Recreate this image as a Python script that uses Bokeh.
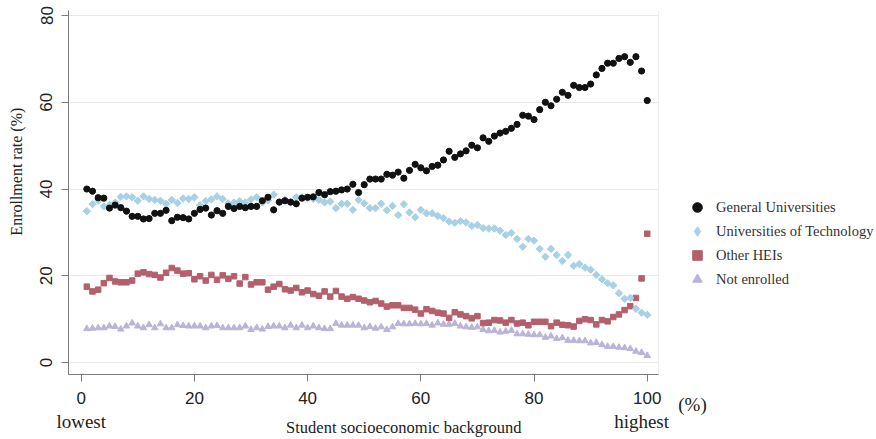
from bokeh.plotting import figure
from bokeh.models import (Range1d, Legend, LegendItem, FixedTicker, LinearAxis,
                          BoxAnnotation, Span)
from bokeh.embed import file_html
from bokeh.resources import INLINE

percentile = list(range(1, 101))

general = [40.0, 39.5, 38.0, 37.9, 35.6, 36.3, 35.7, 34.9, 33.7, 33.7,
           33.1, 33.2, 34.4, 34.4, 35.1, 32.7, 33.5, 33.4, 33.1, 34.4,
           35.3, 35.6, 34.0, 35.0, 34.4, 36.0, 35.5, 36.0, 35.7, 36.0,
           36.0, 37.3, 38.1, 35.2, 37.0, 37.3, 37.0, 36.6, 37.9, 38.1,
           38.2, 39.2, 38.7, 39.4, 39.5, 39.8, 40.0, 41.1, 39.2, 41.0,
           42.3, 42.3, 42.3, 43.4, 43.2, 43.9, 42.5, 44.3, 45.7, 44.9,
           44.2, 45.2, 45.5, 46.7, 48.7, 47.3, 48.1, 48.8, 50.1, 49.5,
           51.8, 51.0, 52.2, 52.9, 53.3, 54.0, 54.9, 57.0, 56.8, 56.0,
           58.3, 60.0, 59.2, 60.7, 62.3, 61.6, 63.9, 63.4, 63.4, 64.2,
           66.3, 67.8, 69.0, 69.0, 70.1, 70.5, 69.2, 70.5, 67.2, 60.4]

technology = [34.9, 36.5, 37.3, 36.0, 36.3, 36.9, 38.2, 38.3, 38.1, 37.3,
              38.3, 37.7, 37.5, 37.3, 36.6, 37.5, 36.8, 37.8, 37.7, 38.1,
              36.3, 37.2, 37.6, 38.3, 37.7, 36.7, 36.9, 37.2, 36.9, 37.6,
              38.1, 36.9, 37.4, 38.7, 36.9, 37.5, 36.9, 38.1, 38.1, 37.9,
              37.7, 37.5, 36.9, 37.1, 35.6, 36.6, 36.6, 35.2, 37.5, 36.7,
              35.6, 35.6, 36.6, 35.1, 36.1, 34.0, 36.5, 34.6, 33.5, 35.2,
              34.4, 34.4, 33.8, 33.3, 32.5, 32.2, 32.6, 32.3, 31.5, 31.7,
              31.0, 30.9, 30.9, 30.4, 29.4, 29.9, 28.5, 26.7, 28.5, 28.1,
              26.2, 24.4, 26.2, 24.8, 23.4, 24.8, 22.3, 22.7, 21.9, 21.4,
              20.2, 19.2, 18.3, 17.8, 16.0, 14.7, 14.9, 12.4, 11.5, 11.0]

other_hei = [17.5, 16.4, 16.8, 18.3, 19.5, 18.7, 18.5, 18.5, 18.9, 20.5,
             20.8, 20.4, 20.2, 19.6, 20.7, 21.8, 21.2, 20.5, 20.6, 19.2,
             19.9, 18.9, 20.2, 19.1, 20.1, 19.3, 19.9, 18.2, 19.7, 18.0,
             18.5, 18.5, 16.8, 17.5, 18.1, 16.9, 16.6, 17.2, 16.2, 16.6,
             15.8, 15.4, 16.4, 15.2, 16.5, 15.2, 14.7, 15.1, 14.7, 14.3,
             13.9, 14.2, 13.6, 12.9, 13.2, 13.2, 12.6, 12.6, 12.2, 11.3,
             12.3, 11.9, 11.5, 11.3, 10.3, 11.6, 11.1, 10.7, 10.2, 10.7,
             9.1, 9.2, 9.8, 9.7, 9.2, 9.8, 9.0, 9.2, 8.6, 9.4,
             9.4, 9.4, 8.4, 9.2, 8.7, 8.6, 8.3, 9.6, 10.0, 9.8,
             8.8, 9.8, 9.5, 10.5, 11.1, 12.1, 13.0, 14.9, 19.4, 29.7]

not_enrolled = [7.8, 7.9, 8.0, 8.0, 8.4, 8.3, 7.7, 8.4, 9.1, 8.4,
                8.0, 8.7, 8.0, 8.9, 8.0, 8.0, 8.7, 8.5, 8.4, 8.4,
                8.4, 8.0, 8.4, 8.5, 8.0, 8.0, 8.0, 8.0, 8.4, 7.6,
                8.0, 7.7, 8.3, 8.4, 8.4, 8.0, 8.6, 8.0, 8.6, 8.0,
                8.4, 8.0, 7.8, 7.8, 9.0, 8.6, 8.6, 8.6, 8.6, 8.0,
                8.3, 7.9, 8.2, 7.6, 8.2, 9.0, 8.9, 8.9, 9.0, 8.9,
                9.0, 8.6, 9.1, 8.8, 8.8, 9.0, 8.4, 8.2, 8.1, 8.2,
                7.6, 7.3, 7.4, 7.0, 7.2, 7.4, 6.6, 6.6, 6.5, 6.4,
                6.4, 5.8, 6.1, 5.5, 5.7, 5.1, 5.1, 5.0, 5.0, 4.5,
                4.6, 4.1, 3.7, 3.7, 3.5, 3.4, 3.2, 2.6, 2.3, 1.6]

x_ticks = [0, 20, 40, 60, 80, 100]
y_ticks = [0, 20, 40, 60, 80]
series_labels = ["General Universities", "Universities of Technology",
                 "Other HEIs", "Not enrolled"]
end_labels = {0: "lowest", 99: "highest"}
x_title = {57: "Student socioeconomic background"}
unit_label = {108: "(%)"}
y_title = {44: "Enrollment rate (%)"}

X_START, X_AXIS_END, X_END = -2.24, 102.0, 140.5
SERIF = "Liberation Serif"
SANS = "Liberation Sans"
INK = "#222222"
AXIS_GREY = "#7a7a7a"
BLUE = "#a8d1e5"

p = figure(width=876, height=439, output_backend="svg", toolbar_location=None,
           x_range=Range1d(X_START, X_END), y_range=Range1d(-2.75, 81.15),
           min_border_left=68, min_border_right=0, min_border_top=10,
           min_border_bottom=63)
p.background_fill_color = "white"
p.border_fill_color = "white"
p.outline_line_color = None

p.xgrid.visible = False
p.ygrid.ticker = FixedTicker(ticks=y_ticks)
p.ygrid.grid_line_color = "#e9e9e9"

# blank the area right of the plot region (legend area)
p.add_layout(BoxAnnotation(left=X_AXIS_END, fill_color="white", fill_alpha=1.0,
                           line_color=None, level="underlay"))
p.add_layout(Span(location=X_AXIS_END, dimension="height",
                  line_color="#ececec", line_width=1, level="underlay"))

r4 = p.scatter(percentile, not_enrolled, marker="triangle", size=6.5,
               fill_color="#b9b4da", line_color="#b9b4da")
r3 = p.scatter(percentile, other_hei, marker="square", size=5.5,
               fill_color="#b3606c", line_color="#b3606c")
r2 = p.scatter(percentile, technology, marker="square", angle=0.785398, size=5.2,
               fill_color=BLUE, line_color=BLUE)
r1 = p.scatter(percentile, general, marker="circle", size=6.2,
               fill_color="#111111", line_color="#111111")
# legend swatch for the diamond series (a single undrawable NaN point)
r2_key = p.scatter(x=[float("nan")], y=[float("nan")], marker="diamond",
                   size=8, fill_color=BLUE, line_color=BLUE)

xa = p.xaxis[0]
ya = p.yaxis[0]
xa.ticker = FixedTicker(ticks=x_ticks)
ya.ticker = FixedTicker(ticks=y_ticks)
xa.bounds = (X_START, X_AXIS_END)
for ax in (xa, ya):
    ax.axis_line_color = AXIS_GREY
    ax.major_tick_line_color = AXIS_GREY
    ax.minor_tick_line_color = None
    ax.major_tick_out = 7
    ax.major_tick_in = 0
    ax.major_label_text_font = SANS
    ax.major_label_text_font_size = "17px"
    ax.major_label_text_color = INK
xa.major_label_standoff = 10
ya.major_label_standoff = 9
ya.major_label_orientation = "vertical"


def label_axis(labels, font_size, standoff, orientation="horizontal"):
    ticks = list(labels.keys())
    return LinearAxis(ticker=FixedTicker(ticks=ticks),
                      major_label_overrides=labels,
                      major_label_orientation=orientation,
                      axis_line_color=None, major_tick_line_color=None,
                      minor_tick_line_color=None, major_tick_out=0,
                      major_tick_in=0, major_label_standoff=standoff,
                      major_label_text_font=SERIF,
                      major_label_text_font_size=font_size,
                      major_label_text_color=INK)


p.add_layout(label_axis(unit_label, "19px", -13), "below")
p.add_layout(label_axis(end_labels, "19px", -7), "below")
p.add_layout(label_axis(x_title, "16.5px", -17), "below")
p.add_layout(label_axis(y_title, "16px", 12, "vertical"), "left")

items = [LegendItem(label=lbl, renderers=[r]) for lbl, r in
         zip(series_labels, [r1, r2_key, r3, r4])]
legend = Legend(items=items, location=(617, 83), orientation="vertical",
                background_fill_alpha=0, border_line_alpha=0,
                label_text_font=SERIF, label_text_font_size="14.5px",
                label_text_color="#333333", glyph_width=24, glyph_height=24,
                spacing=0, padding=0, margin=0, label_standoff=7)
p.add_layout(legend)

open("out.html", "w").write(file_html(p, INLINE))
